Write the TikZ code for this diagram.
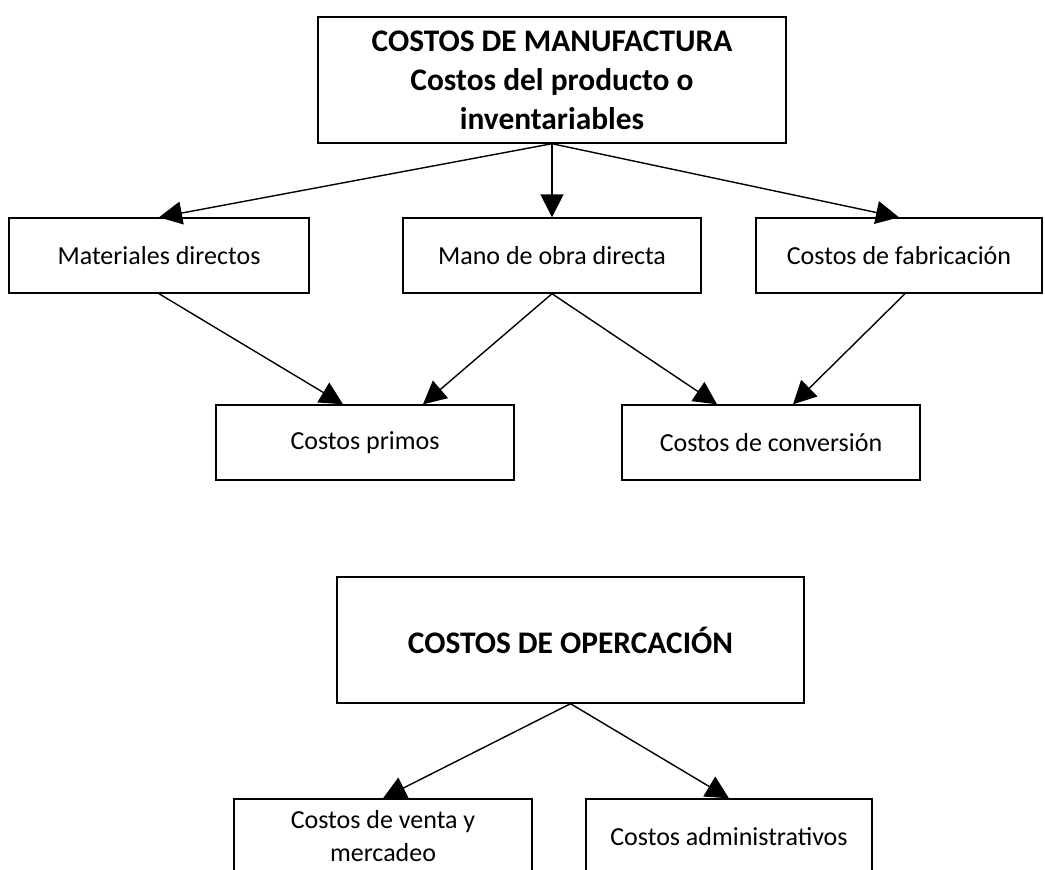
\documentclass[tikz,border=0pt]{standalone}
\usepackage{fontspec}
\setmainfont{Carlito}
\usetikzlibrary{arrows.meta}

\begin{document}
\begin{tikzpicture}[x=0.5pt,y=-0.5pt,
  box/.style={draw,line width=0.7pt,minimum width=149pt,minimum height=37.5pt,
    align=center,inner sep=0pt,font=\fontsize{13}{16.5}\selectfont},
  head/.style={box,minimum width=234pt,minimum height=63pt,
    font=\bfseries\fontsize{15.7}{19.5}\selectfont},
  arr/.style={-{Triangle[length=11.5pt,width=11.5pt]},line width=0.7pt}]
\useasboundingbox (0,0) rectangle (1045,869);
\clip (0,0) rectangle (1045,869);
\node[head] (manuf) at (552,80) {COSTOS DE MANUFACTURA\\Costos del producto o\\inventariables};
\node[box,minimum width=150pt] (mat) at (159,255.5) {Materiales directos};
\node[box] (mano) at (552,255.5) {Mano de obra directa};
\node[box,minimum width=143pt] (fab) at (899,255.5) {Costos de fabricación};
\node[box] (primos) at (365,442.5) {Costos primos};
\node[box] (conv) at (771,442.5) {Costos de conversión};
\draw[arr] (manuf.south) -- (mat.north);
\draw[arr] (manuf.south) -- (mano.north);
\draw[arr] (manuf.south) -- (fab.north);
\draw[arr] (mat.south) -- ([xshift=-11pt]primos.north);
\draw[arr] (mano.south) -- ([xshift=29pt]primos.north);
\draw[arr] (mano.south) -- ([xshift=-27pt]conv.north);
\draw[arr] ([xshift=3pt]fab.south) -- ([xshift=11pt]conv.north);
\node[head,minimum width=233.5pt] (oper) at (570.5,640) {COSTOS DE OPERCACIÓN};
\node[box] (venta) at (383,836.5) {Costos de venta y\\mercadeo};
\node[box,minimum width=143pt] (admin) at (729,836.5) {Costos administrativos};
\draw[arr] (oper.south) -- (venta.north);
\draw[arr] (oper.south) -- (admin.north);
\end{tikzpicture}
\end{document}
